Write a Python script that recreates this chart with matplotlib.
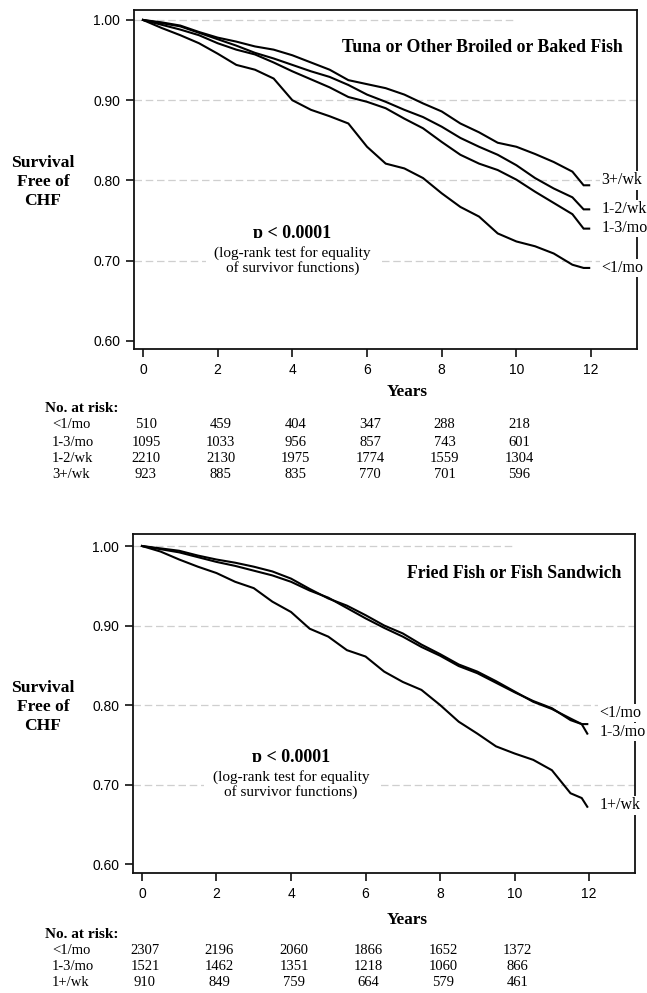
import matplotlib
matplotlib.use("Agg")
import matplotlib.pyplot as plt
from matplotlib.transforms import blended_transform_factory

# ---------------- data ----------------
years = [0, 0.5, 1, 1.5, 2, 2.5, 3, 3.5, 4, 4.5, 5, 5.5, 6, 6.5, 7, 7.5,
         8, 8.5, 9, 9.5, 10, 10.5, 11, 11.5, 11.8, 11.95]

# Panel A: Tuna or other broiled or baked fish
tuna_lt1mo = [1.000, 0.990, 0.981, 0.971, 0.958, 0.944, 0.938, 0.927, 0.900, 0.888,
              0.880, 0.871, 0.842, 0.821, 0.815, 0.803, 0.784, 0.767, 0.755, 0.734,
              0.724, 0.718, 0.709, 0.695, 0.691, 0.691]
tuna_1_3mo = [1.000, 0.994, 0.988, 0.981, 0.971, 0.963, 0.957, 0.947, 0.936, 0.926,
              0.916, 0.904, 0.898, 0.890, 0.877, 0.865, 0.848, 0.832, 0.821, 0.813,
              0.801, 0.786, 0.772, 0.758, 0.740, 0.740]
tuna_1_2wk = [1.000, 0.996, 0.992, 0.984, 0.976, 0.968, 0.959, 0.952, 0.944, 0.936,
              0.929, 0.919, 0.907, 0.898, 0.888, 0.879, 0.867, 0.853, 0.842, 0.832,
              0.819, 0.803, 0.790, 0.779, 0.764, 0.764]
tuna_3wk = [1.000, 0.997, 0.993, 0.985, 0.978, 0.973, 0.967, 0.963, 0.956, 0.947,
            0.938, 0.925, 0.920, 0.915, 0.907, 0.896, 0.886, 0.871, 0.860, 0.847,
            0.842, 0.833, 0.823, 0.811, 0.794, 0.794]
tuna_labels = ["<1/mo", "1-3/mo", "1-2/wk", "3+/wk"]
tuna_label_y = [0.691, 0.741, 0.764, 0.800]

# Panel B: Fried fish or fish sandwich
fried_lt1mo = [1.000, 0.997, 0.994, 0.988, 0.983, 0.979, 0.974, 0.968, 0.959, 0.946,
               0.934, 0.925, 0.913, 0.900, 0.890, 0.876, 0.864, 0.851, 0.842, 0.830,
               0.817, 0.804, 0.795, 0.783, 0.776, 0.776]
fried_1_3mo = [1.000, 0.996, 0.992, 0.986, 0.980, 0.975, 0.969, 0.963, 0.955, 0.944,
               0.935, 0.922, 0.909, 0.897, 0.886, 0.873, 0.862, 0.849, 0.840, 0.828,
               0.816, 0.805, 0.796, 0.781, 0.776, 0.764]
fried_1wk = [1.000, 0.993, 0.983, 0.974, 0.966, 0.955, 0.947, 0.930, 0.917, 0.896,
             0.886, 0.869, 0.861, 0.842, 0.829, 0.819, 0.800, 0.779, 0.764, 0.748,
             0.739, 0.731, 0.718, 0.689, 0.683, 0.672]
fried_labels = ["<1/mo", "1-3/mo", "1+/wk"]
fried_label_y = [0.790, 0.766, 0.674]

risk_years = [0, 2, 4, 6, 8, 10]
tuna_risk = {
    "<1/mo": [510, 459, 404, 347, 288, 218],
    "1-3/mo": [1095, 1033, 956, 857, 743, 601],
    "1-2/wk": [2210, 2130, 1975, 1774, 1559, 1304],
    "3+/wk": [923, 885, 835, 770, 701, 596],
}
fried_risk = {
    "<1/mo": [2307, 2196, 2060, 1866, 1652, 1372],
    "1-3/mo": [1521, 1462, 1351, 1218, 1060, 866],
    "1+/wk": [910, 849, 759, 664, 579, 461],
}

y_ticks = [0.60, 0.70, 0.80, 0.90, 1.00]
x_ticks = [0, 2, 4, 6, 8, 10, 12]

# ---------------- figure ----------------
W, H = 647, 993
fig = plt.figure(figsize=(W / 100, H / 100), dpi=100)
SERIF = ["Liberation Serif", "DejaVu Serif"]
SANS = ["Liberation Sans", "DejaVu Sans"]


def fx(px):
    return px / W


def fy(py):
    return 1 - py / H


def panel(top_px, left_px, right_px, ylim, series, labels, label_y, title,
          risk, risk_rows_px, years_px, norisk_px, ylab_px):
    ax = fig.add_axes([fx(left_px), fy(top_px + 339), (right_px - left_px) / W, 339 / H])
    ax.set_xlim(-0.24, 13.23)
    ax.set_ylim(*ylim)
    for gy in [0.70, 0.80, 0.90]:
        ax.axhline(gy, color="#cfcfcf", lw=0.9, ls=(0, (6, 3)), zorder=1)
    ax.axhline(1.00, xmax=0.757, color="#cfcfcf", lw=0.9, ls=(0, (6, 3)), zorder=1)
    for s in series:
        ax.plot(years, s, color="black", lw=1.5, zorder=4, solid_joinstyle="miter")
    for lab, ly in zip(labels, label_y):
        ax.text(12.27, ly, lab, ha="left", va="center", fontsize=11.5, family=SERIF,
                clip_on=False, zorder=6,
                bbox=dict(facecolor="white", edgecolor="none", pad=1.0))
    ax.text(12.86, 0.966, title, ha="right", va="center", fontsize=12.8,
            fontweight="bold", family=SERIF, zorder=5)
    ax.text(4.0, 0.734, "p < 0.0001", ha="center", va="center", fontsize=13,
            fontweight="bold", family=SERIF, zorder=5)
    ax.text(4.0, 0.700, "(log-rank test for equality\nof survivor functions)",
            ha="center", va="center", fontsize=11, family=SERIF, linespacing=1.1,
            zorder=5, bbox=dict(facecolor="white", edgecolor="none", pad=6))
    for sp in ax.spines.values():
        sp.set_linewidth(1.3)
        sp.set_color("#111111")
    ax.set_yticks(y_ticks)
    ax.set_yticklabels([f"{v:.2f}" for v in y_ticks], family=SANS, fontsize=10)
    ax.set_xticks(x_ticks)
    ax.set_xticklabels([str(v) for v in x_ticks], family=SANS, fontsize=10)
    ax.tick_params(direction="out", length=6, width=1.2, pad=4, color="#111111")

    fig.text(fx(43), fy(ylab_px), "Survival\nFree of\nCHF", ha="center", va="center",
             fontsize=12.6, fontweight="bold", family=SERIF, linespacing=1.25)
    fig.text(fx(407), fy(years_px), "Years", ha="center", va="center",
             fontsize=12.4, fontweight="bold", family=SERIF)
    fig.text(fx(45), fy(norisk_px), "No. at risk:", ha="left", va="center",
             fontsize=11, fontweight="bold", family=SERIF)
    tr = blended_transform_factory(ax.transData, fig.transFigure)
    for (name, vals), ry in zip(risk.items(), risk_rows_px):
        fig.text(fx(52), fy(ry), name, ha="left", va="center", fontsize=10.5, family=SERIF)
        for xv, n in zip(risk_years, vals):
            ax.text(xv + 0.08, fy(ry), str(n), transform=tr, ha="center", va="center",
                    fontsize=10.5, family=SERIF, clip_on=False)
    return ax


panel(10, 134, 637, (0.590, 1.0124),
      [tuna_lt1mo, tuna_1_3mo, tuna_1_2wk, tuna_3wk], tuna_labels, tuna_label_y,
      "Tuna or Other Broiled or Baked Fish", tuna_risk,
      [425, 442, 458, 475], 392, 408, 182)

panel(534, 133, 635, (0.5887, 1.0151),
      [fried_lt1mo, fried_1_3mo, fried_1wk], fried_labels, fried_label_y,
      "Fried Fish or Fish Sandwich", fried_risk,
      [950, 967, 983], 920, 934, 707)

fig.savefig("out.png", dpi=100)
